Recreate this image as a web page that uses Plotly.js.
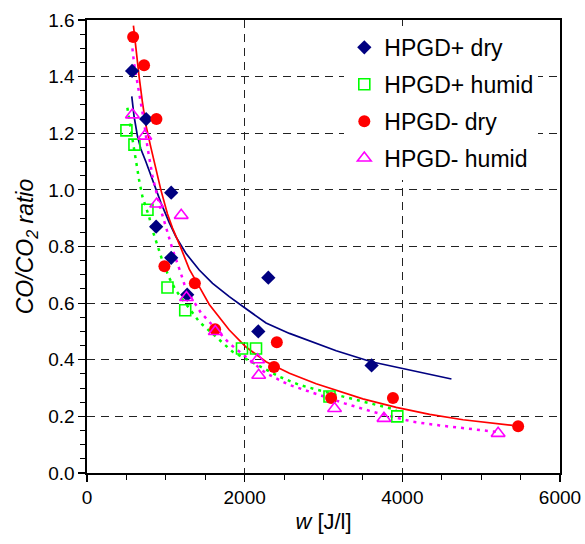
<!DOCTYPE html>
<html>
<head>
<meta charset="utf-8">
<script src="https://cdn.plot.ly/plotly-3.0.1.min.js"></script>
<style>html,body{margin:0;padding:0;background:#fff;}#chart{width:585px;height:544px;}</style>
</head>
<body>
<div id="chart"></div>
<script>
// ---- data ----
const seriesNames = ["HPGD+ dry", "HPGD+ humid", "HPGD- dry", "HPGD- humid"];

const plusDryX = [572, 750, 877, 1068, 1068, 1271, 2173, 2300, 3610];
const plusDryY = [1.42, 1.25, 0.87, 0.99, 0.76, 0.63, 0.50, 0.69, 0.38];

const plusHumidX = [500, 602, 767, 1021, 1246, 1966, 2144, 3076, 3936];
const plusHumidY = [1.21, 1.16, 0.93, 0.655, 0.575, 0.44, 0.44, 0.27, 0.20];

const minusDryX = [585, 724, 881, 982, 1368, 1625, 2372, 2408, 3097, 3881, 5469];
const minusDryY = [1.54, 1.44, 1.25, 0.73, 0.67, 0.508, 0.374, 0.462, 0.265, 0.265, 0.165];

const minusHumidX = [576, 733, 884, 1195, 1262, 1627, 2165, 2178, 3140, 3767, 5215];
const minusHumidY = [1.265, 1.19, 0.95, 0.91, 0.62, 0.50, 0.40, 0.345, 0.228, 0.193, 0.14];

// fitted trend curves
const plusDryFitX = [568, 597, 640, 682, 746, 830, 937, 1042, 1127, 1254, 1424, 1593, 1805, 2017, 2271, 2568, 2907, 3161, 3606, 3987, 4623];
const plusDryFitY = [1.33, 1.26, 1.19, 1.145, 1.10, 1.035, 0.955, 0.885, 0.835, 0.776, 0.717, 0.670, 0.623, 0.580, 0.530, 0.493, 0.458, 0.432, 0.393, 0.370, 0.332];

const plusHumidFitX = [512, 597, 661, 703, 788, 830, 894, 957, 1042, 1127, 1424, 1848, 2441, 2695, 3161, 3542, 3924];
const plusHumidFitY = [1.29, 1.14, 1.035, 0.976, 0.905, 0.858, 0.80, 0.75, 0.69, 0.645, 0.534, 0.428, 0.340, 0.311, 0.276, 0.25, 0.223];

const minusDryFitX = [589, 619, 661, 703, 746, 810, 852, 937, 1021, 1085, 1191, 1297, 1424, 1551, 1805, 2017, 2271, 2568, 2907, 3118, 3499, 3923, 4347, 4770, 5194, 5400];
const minusDryFitY = [1.58, 1.494, 1.40, 1.31, 1.23, 1.15, 1.10, 1.0, 0.915, 0.865, 0.795, 0.72, 0.658, 0.595, 0.505, 0.445, 0.393, 0.352, 0.315, 0.297, 0.262, 0.232, 0.207, 0.188, 0.173, 0.168];

const minusHumidFitX = [576, 597, 640, 682, 724, 767, 830, 915, 1000, 1085, 1191, 1254, 1445, 1805, 2271, 2568, 3267, 3627, 4135, 4474, 4982, 5200];
const minusHumidFitY = [1.50, 1.447, 1.377, 1.306, 1.24, 1.15, 1.05, 0.95, 0.87, 0.79, 0.705, 0.65, 0.566, 0.458, 0.352, 0.311, 0.246, 0.216, 0.181, 0.168, 0.152, 0.145];

const xTickVals = [0, 2000, 4000, 6000];
const yTickVals = [0, 0.2, 0.4, 0.6, 0.8, 1.0, 1.2, 1.4, 1.6];

// ---- styling ----
const NAVY = "#000080", LIME = "#00ff00", RED = "#ff0000", MAG = "#ff00ff";
const FONT = "Liberation Sans, Arial, sans-serif";

const traces = [
  {x: plusDryFitX, y: plusDryFitY, mode: "lines", line: {color: NAVY, width: 1.7}, showlegend: false, hoverinfo: "skip"},
  {x: plusHumidFitX, y: plusHumidFitY, mode: "lines", line: {color: LIME, width: 2.5, dash: "3px,5px"}, showlegend: false, hoverinfo: "skip"},
  {x: minusDryFitX, y: minusDryFitY, mode: "lines", line: {color: RED, width: 1.7}, showlegend: false, hoverinfo: "skip"},
  {x: minusHumidFitX, y: minusHumidFitY, mode: "lines", line: {color: MAG, width: 2.5, dash: "3px,5px"}, showlegend: false, hoverinfo: "skip"},
  {x: plusDryX, y: plusDryY, name: seriesNames[0], mode: "markers", legendgroup: "a",
   marker: {symbol: "diamond", size: 11, color: NAVY}},
  {x: plusHumidX, y: plusHumidY, name: seriesNames[1], mode: "markers", legendgroup: "b",
   marker: {symbol: "square-open", size: 11, color: LIME, line: {width: 1.6, color: LIME}}},
  {x: minusDryX, y: minusDryY, name: seriesNames[2], mode: "markers", legendgroup: "c",
   marker: {symbol: "circle", size: 12, color: RED}},
  {x: minusHumidX, y: minusHumidY, name: seriesNames[3], mode: "markers", legendgroup: "d",
   marker: {symbol: "triangle-up-open", size: 12, color: MAG, line: {width: 1.6, color: MAG}}}
];

const layout = {
  width: 585, height: 544,
  margin: {l: 87, r: 25, t: 20, b: 71},
  paper_bgcolor: "#fff", plot_bgcolor: "#fff",
  font: {family: FONT, color: "#000", size: 19},
  showlegend: true,
  legend: {x: 0.544, xanchor: "left", y: 0.987, yanchor: "top", bgcolor: "#ffffff",
           font: {family: FONT, size: 23, color: "#000"}, traceorder: "grouped", tracegroupgap: 4,
           itemwidth: 30},
  xaxis: {
    range: [0, 6000], tickvals: xTickVals, ticktext: xTickVals.map(String),
    ticks: "outside", ticklen: 7, tickwidth: 1.2, tickcolor: "#000",
    minor: {dtick: 500, ticks: "outside", ticklen: 5, tickwidth: 1, tickcolor: "#000", showgrid: false},
    showline: true, linecolor: "#000", linewidth: 1.6, mirror: true,
    showgrid: true, gridcolor: "#222", gridwidth: 1, griddash: "8px,6px",
    zeroline: false, tickfont: {size: 19},
    title: {text: "<i>w</i> [J/l]", font: {size: 22}, standoff: 6}
  },
  yaxis: {
    range: [0, 1.6], tickvals: yTickVals, ticktext: yTickVals.map(v => v.toFixed(1)),
    ticks: "outside", ticklen: 7, tickwidth: 1.2, tickcolor: "#000",
    minor: {dtick: 0.05, ticks: "outside", ticklen: 5, tickwidth: 1, tickcolor: "#000", showgrid: false},
    showline: true, linecolor: "#000", linewidth: 1.6, mirror: true,
    showgrid: true, gridcolor: "#222", gridwidth: 1, griddash: "8px,6px",
    zeroline: false, tickfont: {size: 19},
    title: {text: "<i>CO/CO<sub>2</sub> ratio</i>", font: {size: 23}, standoff: 8}
  }
};

Plotly.newPlot("chart", traces, layout, {displayModeBar: false, staticPlot: true});
</script>
</body>
</html>
